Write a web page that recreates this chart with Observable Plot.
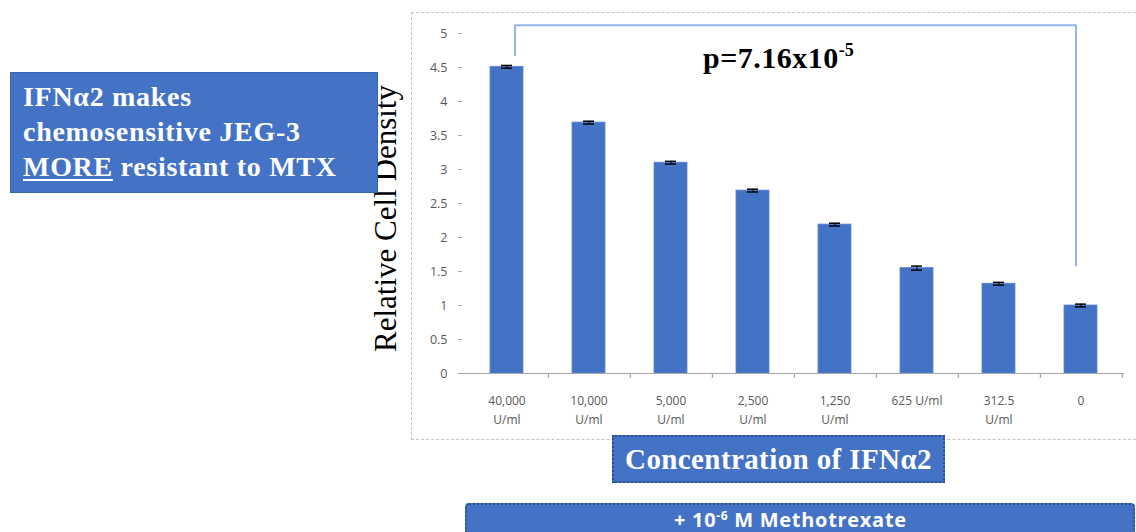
<!DOCTYPE html>
<html>
<head>
<meta charset="utf-8">
<script src="https://cdn.jsdelivr.net/npm/d3@7"></script>
<script src="https://cdn.jsdelivr.net/npm/@observablehq/plot@0.6"></script>
<style>
  html, body { margin: 0; padding: 0; background: #fff; }
  #wrap { position: relative; width: 1136px; height: 532px; overflow: hidden; background: #fff; }
  #chart { position: absolute; left: 0; top: 0; }
  .frame { position: absolute; left: 411px; top: 12px; width: 760px; height: 428px; border: 1px dashed #c4c4c4; box-sizing: border-box; }
  .box { position: absolute; background: #4472C4; color: #fff; box-sizing: border-box; }
  #note { left: 10px; top: 72px; width: 368px; height: 121px; border: 1px solid #3a63ad;
          font: bold 28px "Liberation Serif", "Times New Roman", serif; letter-spacing: 0.7px; line-height: 35px; padding: 6px 0 0 12px; white-space: nowrap; }
  #note u { text-decoration-thickness: 2px; text-underline-offset: 3px; }
  #conc { left: 612px; top: 435px; width: 333px; height: 48px; border: 2px dotted #2f528f;
          font: bold 29px "Liberation Serif", "Times New Roman", serif; letter-spacing: 0.4px; text-align: center; line-height: 44px; white-space: nowrap; }
  #mtx { left: 465px; top: 503px; width: 670px; height: 40px; border: 2px dotted #2f528f; border-radius: 4px;
         font: bold 20px "Open Sans", "DejaVu Sans", sans-serif; letter-spacing: 0.7px; line-height: 22px; padding-left: 207px; white-space: nowrap; }
  #mtx sup { font-size: 12px; vertical-align: 7px; }
  #pval { position: absolute; left: 703px; top: 40px; font: bold 30px "Liberation Serif", "Times New Roman", serif; color: #000; letter-spacing: 0.5px; }
  #pval sup { font-size: 18px; vertical-align: 12px; letter-spacing: 0; }
</style>
</head>
<body>
<div id="wrap">
  <div id="chart"></div>
  <div class="frame"></div>
  <div class="box" id="note">IFNα2 makes<br>chemosensitive JEG-3<br><u>MORE</u> resistant to MTX</div>
  <div id="pval">p=7.16x10<sup>-5</sup></div>
  <div class="box" id="conc">Concentration of IFNα2</div>
  <div class="box" id="mtx">+ 10<sup>-6</sup> M Methotrexate</div>
</div>
<script>
const categories = ["40,000 U/ml", "10,000 U/ml", "5,000 U/ml", "2,500 U/ml", "1,250 U/ml", "625 U/ml", "312.5 U/ml", "0"];
const tickLabels = ["40,000\nU/ml", "10,000\nU/ml", "5,000\nU/ml", "2,500\nU/ml", "1,250\nU/ml", "625 U/ml", "312.5\nU/ml", "0"];
const values = [4.51, 3.69, 3.10, 2.69, 2.19, 1.55, 1.32, 1.00];
const errors = [0.02, 0.02, 0.02, 0.02, 0.02, 0.03, 0.02, 0.02];
const yTicks = [0, 0.5, 1, 1.5, 2, 2.5, 3, 3.5, 4, 4.5, 5];
const yLabel = "Relative Cell Density";
const bracket = {from: categories[0], to: categories[7], left: 4.66, top: 5.12, right: 1.57};

const data = categories.map((c, i) => ({cat: c, v: values[i], e: errors[i]}));
const labelOf = new Map(categories.map((c, i) => [c, tickLabels[i]]));

const gray = "#a6a6a6";
const textGray = "#595959";
const bracketColor = "#8fb8e6";

const plot = Plot.plot({
  width: 1136,
  height: 532,
  marginLeft: 462,
  marginRight: 12,
  marginTop: 33,
  marginBottom: 159,
  style: {background: "transparent", fontFamily: "'Open Sans', 'DejaVu Sans', sans-serif"},
  x: {domain: categories, paddingInner: 0.6, paddingOuter: 0.3, label: null},
  y: {domain: [0, 5], label: null},
  marks: [
    Plot.barY(data, {x: "cat", y: "v", fill: "#4472C4", stroke: "#5b86d0", strokeWidth: 0.8}),
    Plot.ruleX(data, {x: "cat", y1: d => d.v - d.e, y2: d => d.v + d.e, stroke: "#000", strokeWidth: 1}),
    Plot.tickY(data, {x: "cat", y: d => d.v + d.e, stroke: "#000", strokeWidth: 1.5, insetLeft: 11, insetRight: 11}),
    Plot.tickY(data, {x: "cat", y: d => d.v - d.e, stroke: "#000", strokeWidth: 1.5, insetLeft: 11, insetRight: 11}),
    Plot.ruleY([0], {stroke: gray, strokeWidth: 1.2}),
    Plot.ruleX(categories, {x: d => d, y1: 0, y2: -0.075, dx: 41.4, stroke: gray, strokeWidth: 1.2}),
    Plot.axisY({ticks: yTicks, tickFormat: d => String(d), tickSize: 4, tickPadding: 11, line: true,
      stroke: gray, fill: textGray, fontSize: 12.5, label: null}),
    Plot.axisX({tickFormat: d => labelOf.get(d), tickSize: 0, tickPadding: 17, fill: textGray, fontSize: 12,
      lineHeight: 1.65, label: null}),
    // significance bracket
    Plot.ruleX([bracket], {x: "from", y1: "left", y2: "top", dx: 8, stroke: bracketColor, strokeWidth: 2}),
    Plot.ruleX([bracket], {x: "to", y1: "right", y2: "top", dx: -5, stroke: bracketColor, strokeWidth: 2}),
    Plot.ruleY([bracket], {y: "top", x1: "from", x2: "to", insetLeft: 25, insetRight: 21, stroke: bracketColor, strokeWidth: 2}),
    // y axis title
    Plot.text([yLabel], {frameAnchor: "left", textAnchor: "middle", rotate: -90, dx: -76, dy: 15, fontSize: 31,
      fontFamily: "'Liberation Serif', 'Times New Roman', serif", fill: "#000"})
  ]
});
document.getElementById("chart").appendChild(plot);
</script>
</body>
</html>
